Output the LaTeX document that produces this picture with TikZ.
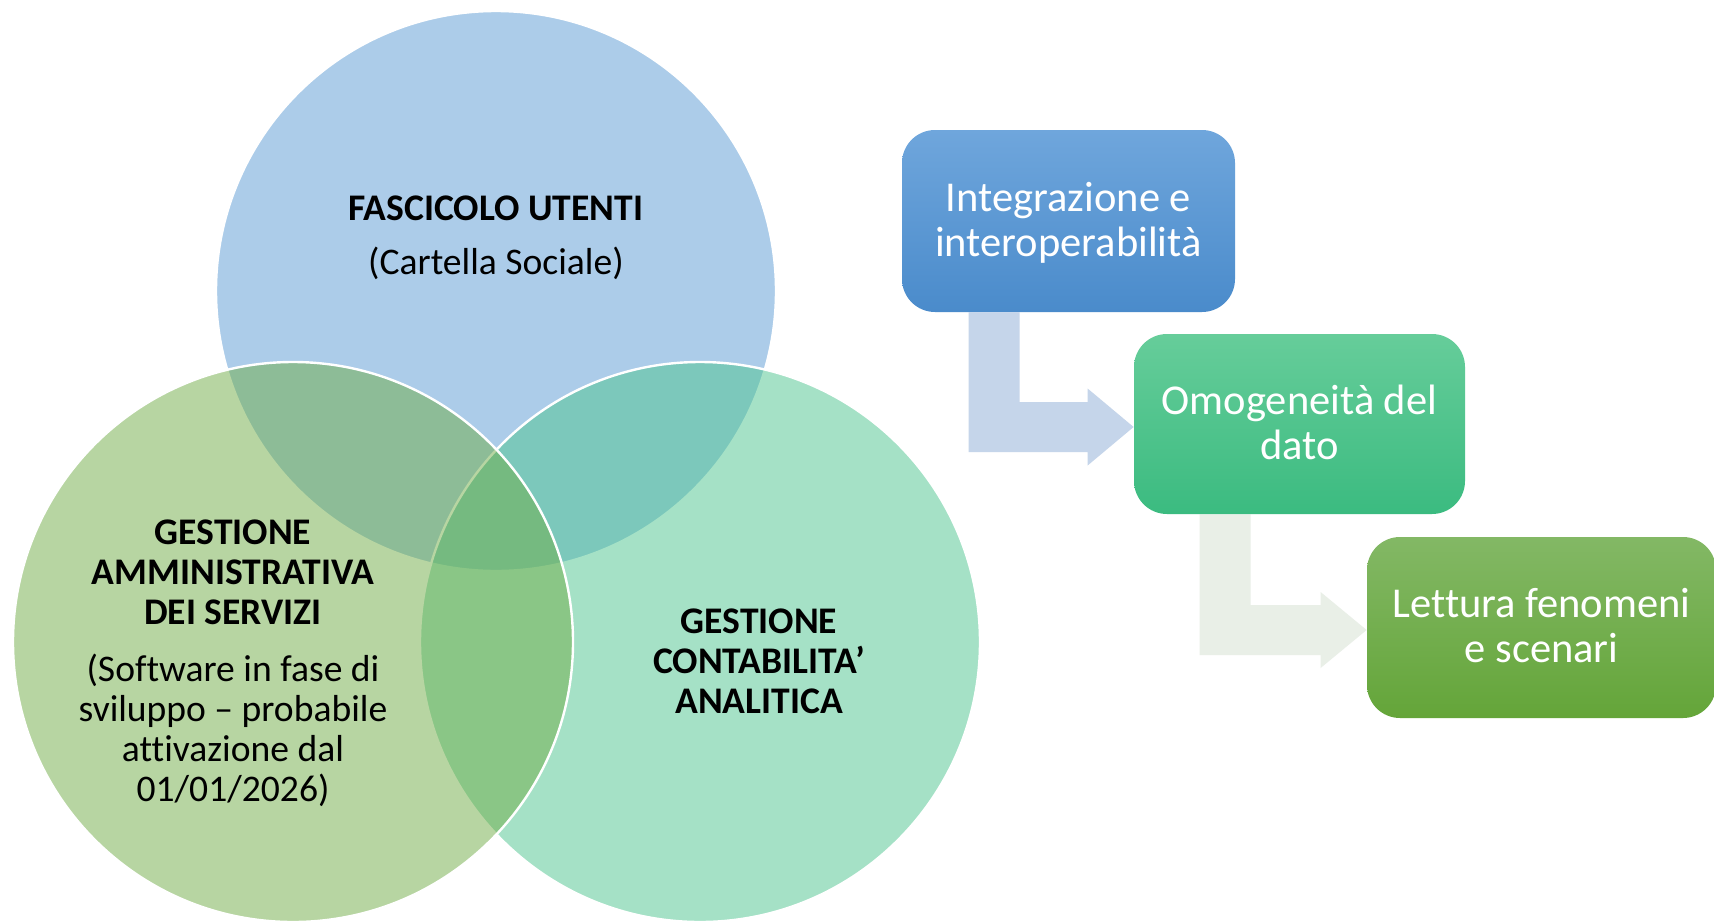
\documentclass[tikz,border=0pt]{standalone}
\usepackage{fontspec}
\setmainfont{Carlito}[Ligatures=NoCommon]
\usetikzlibrary{calc,backgrounds}
\definecolor{cTop}{HTML}{5B9BD5}
\definecolor{cLeft}{HTML}{70AD47}
\definecolor{cRight}{HTML}{4DC58F}
\definecolor{bAtop}{HTML}{6FA6DC}
\definecolor{bAbot}{HTML}{4A8BCB}
\definecolor{bBtop}{HTML}{66CD9A}
\definecolor{bBbot}{HTML}{3BBB80}
\definecolor{bCtop}{HTML}{83B865}
\definecolor{bCbot}{HTML}{64A539}
\definecolor{arrA}{HTML}{C5D5EA}
\definecolor{arrB}{HTML}{E9EFE7}
\newcommand\bxtext[2]{\rule{0pt}{0.8em}#1\\#2\rule[-0.2em]{0pt}{0.2em}}
\begin{document}
\begin{tikzpicture}[x=0.5pt,y=-0.5pt,
  venn/.style={fill opacity=0.5, draw=white, line width=1.2pt},
  vtext/.style={align=center, anchor=base, text=black, inner sep=0pt,
    font=\fontsize{18.8}{20}\selectfont\bfseries},
  stepbox/.style={rounded corners=16.5pt, inner sep=0pt, align=center,
    text=white, font=\fontsize{21.25}{22.5}\selectfont}
]
\useasboundingbox (0,0) rectangle (1714,922);

% Venn circles (top, right, left drawn in this order)
\draw[venn, fill=cTop]   (496,291) circle[radius=280];
\draw[venn, fill=cRight] (700,642) circle[radius=280];
\draw[venn, fill=cLeft]  (293,642) circle[radius=280];

% Venn texts (anchor = baseline of the last line)
\node[vtext] (ttop) at (496,274) {FASCICOLO UTENTI\\[7pt]\mdseries(Cartella Sociale)};
\node[vtext] (tleft) at (233,801.5) {GESTIONE\\AMMINISTRATIVA\\DEI SERVIZI\\[8.5pt]
  \mdseries(Software in fase di\\\mdseries sviluppo – probabile\\\mdseries attivazione dal\\\mdseries 01/01/2026)};
\node[vtext] (tright) at (759,713) {GESTIONE\\CONTABILITA’\\ANALITICA};

% Process boxes
\node[stepbox, top color=bAtop, bottom color=bAbot, minimum width=166.5pt, minimum height=91pt]
  (b1) at (1068.5,221) {\bxtext{Integrazione e}{interoperabilità}};
\node[stepbox, top color=bBtop, bottom color=bBbot, minimum width=165.5pt, minimum height=90pt]
  (b2) at (1299.5,424) {\bxtext{Omogeneità del}{dato}};
\node[stepbox, top color=bCtop, bottom color=bCbot, minimum width=174.5pt, minimum height=90.5pt]
  (b3) at (1541.5,627.5) {\bxtext{Lettura fenomeni}{e scenari}};

\begin{pgfonlayer}{background}
\fill[white] (0,0) rectangle (1714,922);
\fill[arrA] let \p1=(b1.south west), \p2=(b2.west) in
  ({\x1+33.5pt},\y1) -- ({\x1+59pt},\y1) -- ({\x1+59pt},{\y2-1.5pt+12.5pt})
  -- ({\x2-23pt},{\y2-1.5pt+12.5pt}) -- ({\x2-23pt},{\y2-1.5pt+19.25pt})
  -- (\x2,{\y2-1.5pt}) -- ({\x2-23pt},{\y2-1.5pt-19.25pt})
  -- ({\x2-23pt},{\y2-1.5pt-12.5pt}) -- ({\x1+33.5pt},{\y2-1.5pt-12.5pt}) -- cycle;
\fill[arrB] let \p1=(b2.south west), \p2=(b3.west) in
  ({\x1+33pt},\y1) -- ({\x1+58.5pt},\y1) -- ({\x1+58.5pt},{\y2-1.25pt+12.5pt})
  -- ({\x2-23pt},{\y2-1.25pt+12.5pt}) -- ({\x2-23pt},{\y2-1.25pt+19pt})
  -- (\x2,{\y2-1.25pt}) -- ({\x2-23pt},{\y2-1.25pt-19pt})
  -- ({\x2-23pt},{\y2-1.25pt-12.5pt}) -- ({\x1+33pt},{\y2-1.25pt-12.5pt}) -- cycle;
\end{pgfonlayer}
\end{tikzpicture}
\end{document}
